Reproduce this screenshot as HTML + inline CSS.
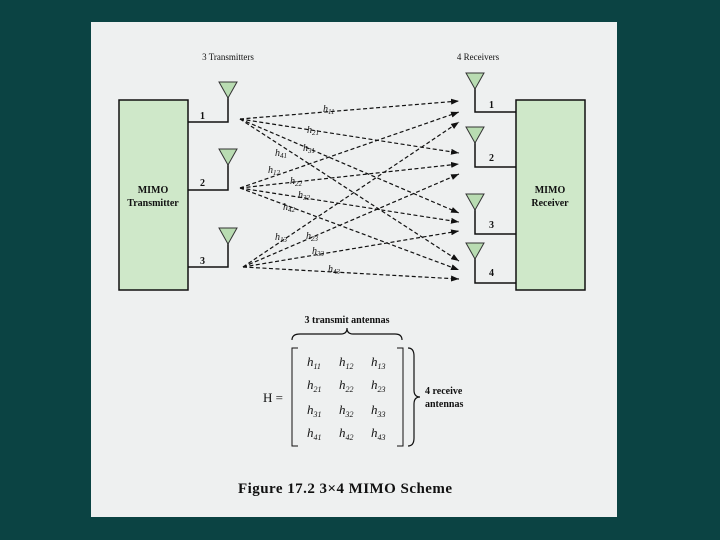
<!DOCTYPE html><html><head><style>
body{margin:0;width:720px;height:540px;background:#0b4343;overflow:hidden}
svg{display:block}
text{font-family:"Liberation Serif",serif;fill:#111}
</style></head><body>
<svg width="720" height="540" xmlns="http://www.w3.org/2000/svg">
<defs><marker id="a" markerWidth="8" markerHeight="6" refX="8" refY="3" orient="auto" markerUnits="userSpaceOnUse"><path d="M0,0L8,3L0,6z" fill="#111"/></marker></defs>
<rect x="91" y="22" width="526" height="495" fill="#eef0f0"/>
<text x="228" y="60" font-size="9" text-anchor="middle">3 Transmitters</text>
<text x="478" y="60" font-size="9" text-anchor="middle">4 Receivers</text>
<rect x="119" y="100" width="69" height="190" fill="#cfe8c9" stroke="#111" stroke-width="1.5"/>
<rect x="516" y="100" width="69" height="190" fill="#cfe8c9" stroke="#111" stroke-width="1.5"/>
<text x="153" y="193" font-size="10" font-weight="bold" text-anchor="middle">MIMO</text>
<text x="153" y="206" font-size="10" font-weight="bold" text-anchor="middle">Transmitter</text>
<text x="550" y="193" font-size="10" font-weight="bold" text-anchor="middle">MIMO</text>
<text x="550" y="206" font-size="10" font-weight="bold" text-anchor="middle">Receiver</text>
<g stroke="#111" stroke-width="1.5" fill="none">
<path d="M188,122H228V96M188,190H228V163M188,267H228V242"/>
<path d="M516,112H475V87M516,167H475V141M516,234H475V208M516,283H475V257"/>
</g>
<g fill="#b9dcb2" stroke="#333" stroke-width="1">
<path d="M219,82H237L228,98z"/><path d="M219,149H237L228,165z"/><path d="M219,228H237L228,244z"/>
<path d="M466,73H484L475,89z"/><path d="M466,127H484L475,143z"/><path d="M466,194H484L475,210z"/><path d="M466,243H484L475,259z"/>
</g>
<g font-size="10" font-weight="bold"><text x="200" y="119">1</text><text x="200" y="186">2</text><text x="200" y="264">3</text>
<text x="489" y="108">1</text><text x="489" y="161">2</text><text x="489" y="228">3</text><text x="489" y="276">4</text></g>
<g stroke="#111" stroke-width="1.2" stroke-dasharray="4,2.5" fill="none" marker-end="url(#a)">
<path d="M240,119L459,101"/><path d="M240,119L459,153"/><path d="M240,119L459,213"/><path d="M240,119L459,261"/>
<path d="M240,188L459,112"/><path d="M240,188L459,164"/><path d="M240,188L459,222"/><path d="M240,188L459,270"/>
<path d="M243,267L459,122"/><path d="M243,267L459,174"/><path d="M243,267L459,231"/><path d="M243,267L459,279"/>
</g>
<g font-size="10" font-style="italic">
<text x="323" y="112">h<tspan font-size="7" dy="2">11</tspan></text>
<text x="307" y="133">h<tspan font-size="7" dy="2">21</tspan></text>
<text x="303" y="151">h<tspan font-size="7" dy="2">31</tspan></text>
<text x="275" y="156">h<tspan font-size="7" dy="2">41</tspan></text>
<text x="268" y="173">h<tspan font-size="7" dy="2">12</tspan></text>
<text x="290" y="184">h<tspan font-size="7" dy="2">22</tspan></text>
<text x="298" y="198">h<tspan font-size="7" dy="2">32</tspan></text>
<text x="283" y="210">h<tspan font-size="7" dy="2">42</tspan></text>
<text x="275" y="240">h<tspan font-size="7" dy="2">13</tspan></text>
<text x="306" y="239">h<tspan font-size="7" dy="2">23</tspan></text>
<text x="312" y="254">h<tspan font-size="7" dy="2">33</tspan></text>
<text x="328" y="272">h<tspan font-size="7" dy="2">43</tspan></text>
</g>
<text x="347" y="323" font-size="10" font-weight="bold" text-anchor="middle">3 transmit antennas</text>
<path d="M292,340Q292,334 300,334H341Q347,334 347,328Q347,334 353,334H395Q402,334 402,340" fill="none" stroke="#111" stroke-width="1.2"/>
<path d="M298,348H292V446H298M397,348H403V446H397" fill="none" stroke="#111" stroke-width="1"/>
<path d="M408,348Q414,348 414,356V390Q414,397 420,397Q414,397 414,404V438Q414,446 408,446" fill="none" stroke="#111" stroke-width="1.2"/>
<text x="263" y="402" font-size="13">H =</text>
<g font-size="13" font-style="italic">
<text x="307" y="366">h<tspan font-size="8" dy="3">11</tspan></text><text x="339" y="366">h<tspan font-size="8" dy="3">12</tspan></text><text x="371" y="366">h<tspan font-size="8" dy="3">13</tspan></text>
<text x="307" y="389">h<tspan font-size="8" dy="3">21</tspan></text><text x="339" y="389">h<tspan font-size="8" dy="3">22</tspan></text><text x="371" y="389">h<tspan font-size="8" dy="3">23</tspan></text>
<text x="307" y="414">h<tspan font-size="8" dy="3">31</tspan></text><text x="339" y="414">h<tspan font-size="8" dy="3">32</tspan></text><text x="371" y="414">h<tspan font-size="8" dy="3">33</tspan></text>
<text x="307" y="437">h<tspan font-size="8" dy="3">41</tspan></text><text x="339" y="437">h<tspan font-size="8" dy="3">42</tspan></text><text x="371" y="437">h<tspan font-size="8" dy="3">43</tspan></text>
</g>
<text x="425" y="394" font-size="10" font-weight="bold">4 receive</text>
<text x="425" y="407" font-size="10" font-weight="bold">antennas</text>
<text x="238" y="493" font-size="15" font-weight="bold" textLength="214">Figure 17.2  3×4 MIMO Scheme</text>
</svg>
</body></html>
